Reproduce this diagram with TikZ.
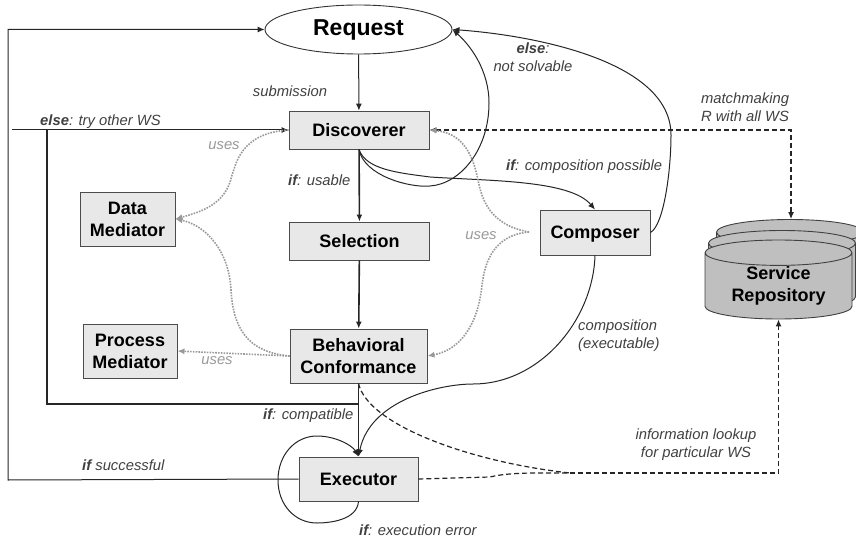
\documentclass[tikz,border=0pt]{standalone}
\usepackage{fontspec}
\setmainfont{Liberation Sans}
\usetikzlibrary{shapes.geometric}
\usetikzlibrary{arrows.meta}
\begin{document}
\begin{tikzpicture}[x=1pt,y=-1pt]
\tikzset{procbox/.style={
    draw=black!70,
    fill=black!9,
    line width=0.9pt,
    minimum width=#1,
    align=center,
    inner sep=0pt,
    font=\fontsize{18}{22}\selectfont\bfseries
  },
  procbox/.default=140pt,
  repocyl/.style={
    cylinder,
    shape border rotate=90,
    shape aspect=0.27,
    anchor=shape center,
    draw=black!75,
    fill=black!25,
    line width=0.9pt,
    minimum width=147pt,
    minimum height=79pt,
    inner sep=0pt,
    align=center,
    font=\fontsize{18}{22}\selectfont\bfseries
  },
  note/.style={
    text=black!75,
    align=center,
    inner sep=0pt,
    font=\fontsize{14.8}{18}\selectfont\itshape
  },
  usesnote/.style={note,text=black!40},
  flow/.style={-{Latex[length=7pt,width=6pt]},black!85,line width=1pt},
  heavy/.style={flow,line width=1.6pt},
  lookup/.style={-{Latex[length=7pt,width=6pt]},black!85,dash pattern=on 5pt off 3pt,line width=1.2pt},
  usesline/.style={-{Latex[length=7pt,width=6pt]},black!40,dash pattern=on 1.6pt off 1.2pt,line width=1.6pt}
}
\clip (0,0) rectangle (856,537);

\node[ellipse,draw=black!80,line width=0.9pt,minimum width=187pt,minimum height=49pt,inner sep=0pt,
  font=\fontsize{23}{26}\selectfont\bfseries] (request) at (358.5,29.5) {Request};
\node[procbox,minimum height=38pt] (discoverer) at (359,130) {Discoverer};
\node[procbox,minimum height=38pt] (selection) at (359.5,241) {Selection};
\node[procbox=137pt,minimum height=54pt] (behavioral) at (358.5,356) {Behavioral\\Conformance};
\node[procbox=119pt,minimum height=44pt] (executor) at (358.5,479) {Executor};
\node[procbox=110pt,minimum height=45pt,text depth=0pt] (composer) at (595,232.5) {Composer};
\node[procbox=95pt,minimum height=54pt] (datamed) at (127.5,219) {Data\\Mediator};
\node[procbox=94pt,minimum height=54pt] (procmed) at (130,351) {Process\\Mediator};

\node[repocyl] (repoback) at (790,259) {\phantom{Repository}};
\node[repocyl] (repomid) at (782,270) {\phantom{Repository}};
\node[repocyl] (repo) at (778.5,279.5) {Service\\Repository};

\coordinate (elsein) at (12,130);
\coordinate (elsecorner) at (47,404);
\coordinate (elsejoin) at (359,404);
\coordinate (donecorner) at (8,480);
\coordinate (donetop) at (8,29.5);
\coordinate (merge) at (570,473);
\coordinate (lookupcorner) at (778.5,473);
\coordinate (matchcorner) at (791,130);
\coordinate (composeruses) at (529,232);

\draw[flow] (request) -- (discoverer);
\draw[heavy] (discoverer) -- (selection);
\draw[heavy] (selection) -- (behavioral);
\draw[flow] (behavioral) -- (executor);
\draw[flow] (elsein) -- (discoverer);
\draw[heavy,-] (elsejoin) -- (elsecorner) -- (elsecorner |- elsein);
\draw[flow] (executor.west) -- (donecorner) -- (donetop) -- (request.west);

\draw[flow] (discoverer.south) .. controls (364,176) and (410,188) .. (430,186)
  .. controls (460,184) and (489,150) .. (489,103)
  .. controls (489,70) and (470,45) .. (request.east);
\draw[flow] (discoverer.south) .. controls (366,170) and (400,173) .. (430,177)
  .. controls (490,181) and (570,180) .. (composer.north);
\draw[flow] (composer.east) .. controls (664,225) and (671,170) .. (671,135)
  .. controls (671,60) and (530,35) .. (request.east);
\draw[flow] (composer.south) .. controls (593,320) and (540,384) .. (473,384)
  .. controls (440,384) and (370,400) .. (executor.north);
\draw[flow] (executor.south) .. controls (357,520) and (330,523) .. (317,523)
  .. controls (295,523) and (278,505) .. (278,480)
  .. controls (278,455) and (295,436) .. (317,436)
  .. controls (335,436) and (352,445) .. (executor.north);

\draw[lookup,-] (behavioral.south) .. controls (368,425) and (470,462) .. (merge);
\draw[lookup,-] (executor.east) -- (490,477) .. controls (510,472) and (540,473) .. (merge);
\draw[lookup] (merge) -- (lookupcorner) -- (repo.south);
\draw[lookup,{Latex[length=7pt,width=6pt]}-{Latex[length=7pt,width=6pt]}] (discoverer.east) -- (matchcorner) -- (matchcorner |- repoback.north);

\draw[usesline] (discoverer.west) .. controls (240,133) and (236,165) .. (232,175)
  .. controls (226,205) and (200,212) .. (datamed.east);
\draw[usesline] (behavioral.west) .. controls (245,352) and (233,325) .. (231,290)
  .. controls (229,250) and (205,225) .. (datamed.east);
\draw[usesline] (behavioral.west) -- (procmed.east);
\draw[usesline] (composeruses) .. controls (490,225) and (482,200) .. (478,180)
  .. controls (472,150) and (460,133) .. (discoverer.east);
\draw[usesline] (composeruses) .. controls (495,235) and (485,260) .. (482,285)
  .. controls (478,325) and (460,350) .. (behavioral.east);

\node[note] (submission) at (290,91) {submission};
\node[note,anchor=west] (tryother) at (40,122) {{\bfseries else}: try other WS};
\node[note,anchor=west] (usable) at (288,180) {{\bfseries if}: usable};
\node[note] (notsolvable) at (533,57) {{\bfseries else}:\\not solvable};
\node[note,anchor=west] (possible) at (506,167) {{\bfseries if}: composition possible};
\node[note] (matchmaking) at (745,107) {matchmaking\\R with all WS};
\node[note,align=left,anchor=west] (executable) at (578,336) {composition\\(executable)};
\node[note] (information) at (696,445) {information lookup\\for particular WS};
\node[note,anchor=west] (compatible) at (263,416) {{\bfseries if}: compatible};
\node[note,anchor=west] (successful) at (82,465) {{\bfseries if} successful};
\node[note,anchor=west] (execerror) at (359,530) {{\bfseries if}: execution error};
\node[usesnote] (usesdata) at (224,146) {uses};
\node[usesnote] (usesproc) at (217,361) {uses};
\node[usesnote] (usescomp) at (481,236) {uses};
\end{tikzpicture}
\end{document}
